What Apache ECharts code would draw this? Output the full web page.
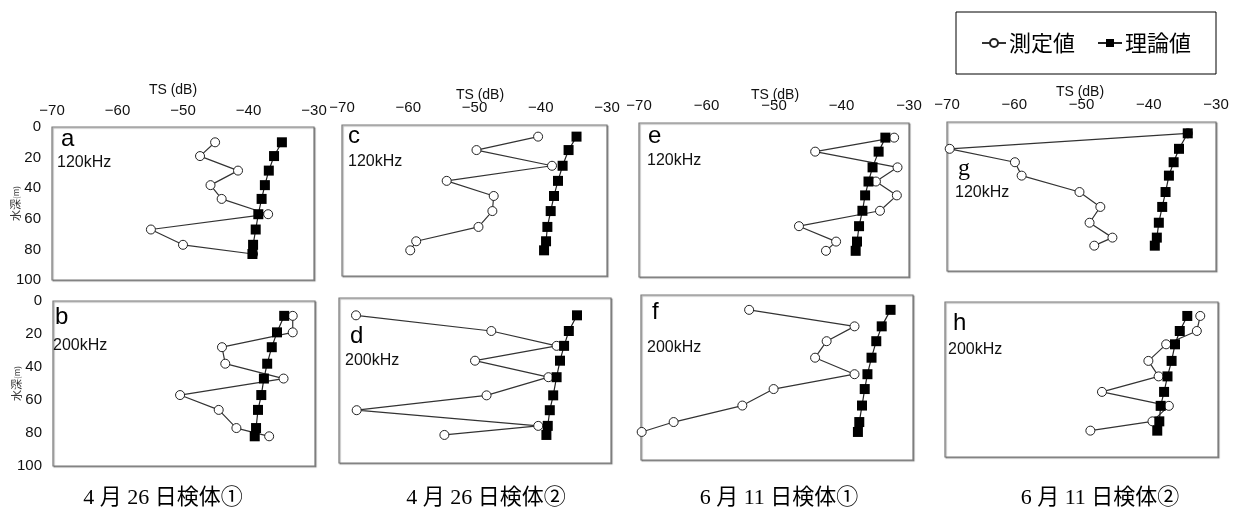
<!DOCTYPE html>
<html><head><meta charset="utf-8">
<script src="https://cdn.jsdelivr.net/npm/echarts@6/dist/echarts.min.js"></script>
<style>html,body{margin:0;padding:0;background:#fff}#c{width:1235px;height:528px}</style>
</head><body><div id="c"></div>
<script>
// ---- data (TS in dB vs depth in m) ----
const xTicks = [-70, -60, -50, -40, -30];
const yTicks = [0, 20, 40, 60, 80, 100];
const seriesNames = ['測定値', '理論値'];
const captions = ['4 月 26 日検体①', '4 月 26 日検体②', '6 月 11 日検体①', '6 月 11 日検体②'];

const depthA = [10, 19, 28.5, 38, 47, 57, 67, 77, 83];
const measA  = [-45.1, -47.4, -41.6, -45.8, -44.1, -37.0, -54.9, -50.0, -39.3];
const theoA  = [-34.9, -36.1, -36.9, -37.5, -38.0, -38.5, -38.9, -39.3, -39.4];

const depthB = [9, 19, 28, 38, 47, 57, 66, 77, 82];
const measB  = [-33.4, -33.4, -44.2, -43.7, -34.8, -50.6, -44.7, -42.0, -37.0];
const theoB  = [-34.7, -35.8, -36.6, -37.3, -37.8, -38.2, -38.7, -39.0, -39.2];

const depthC = [7.7, 16.6, 27, 37, 47, 57, 67.5, 77, 83];
const measC  = [-40.4, -49.7, -38.3, -54.2, -47.1, -47.3, -49.4, -58.8, -59.7];
const theoC  = [-34.6, -35.8, -36.7, -37.4, -38.0, -38.5, -39.0, -39.2, -39.5];

const depthD = [10.5, 20, 29, 38, 48, 59, 68, 77.5, 83];
const measD  = [-67.5, -47.6, -38.0, -50.0, -39.2, -48.3, -67.4, -40.7, -54.5];
const theoD  = [-35.0, -36.2, -36.9, -37.5, -38.0, -38.5, -39.0, -39.3, -39.5];

const depthE = [9.5, 18.6, 28.8, 38, 47, 57, 67, 77, 83];
const measE  = [-32.2, -43.9, -31.7, -34.9, -31.8, -34.3, -46.3, -40.8, -42.3];
const theoE  = [-33.5, -34.5, -35.4, -36.0, -36.5, -36.9, -37.4, -37.7, -37.9];

const depthF = [9, 19, 28, 38, 48, 57, 67, 77, 83];
const measF  = [-54.1, -38.6, -42.7, -44.4, -38.6, -50.5, -55.1, -65.2, -69.9];
const theoF  = [-33.3, -34.6, -35.4, -36.1, -36.7, -37.1, -37.5, -37.9, -38.1];

const depthG = [7.6, 18, 27, 36, 47, 57, 67.6, 77.6, 83];
const measG  = [-34.2, -69.6, -59.9, -58.9, -50.3, -47.2, -48.8, -45.4, -48.1];
const theoG  = [-34.2, -35.5, -36.3, -37.0, -37.5, -38.0, -38.5, -38.8, -39.1];

const depthH = [9, 18.7, 27.3, 38, 48, 58, 67, 77, 83];
const measH  = [-32.6, -33.1, -37.6, -40.2, -38.7, -47.0, -37.2, -39.6, -48.7];
const theoH  = [-34.5, -35.6, -36.3, -36.8, -37.4, -37.9, -38.4, -38.6, -38.9];

const panelLetters = ['a', 'b', 'c', 'd', 'e', 'f', 'g', 'h'];
const panelFreqs = ['120kHz', '200kHz', '120kHz', '200kHz', '120kHz', '200kHz', '120kHz', '200kHz'];
const panelDepths = [depthA, depthB, depthC, depthD, depthE, depthF, depthG, depthH];
const panelMeas = [measA, measB, measC, measD, measE, measF, measG, measH];
const panelTheo = [theoA, theoB, theoC, theoD, theoE, theoF, theoG, theoH];

// ---- layout ----
const boxes = [
  {l: 52, t: 127, w: 262, h: 153},
  {l: 53, t: 301, w: 262, h: 165},
  {l: 342, t: 125, w: 265, h: 151},
  {l: 339, t: 298, w: 272, h: 165},
  {l: 639, t: 123, w: 270, h: 154},
  {l: 641, t: 295, w: 272, h: 165},
  {l: 947, t: 122, w: 269, h: 149},
  {l: 945, t: 302, w: 273, h: 155}
];
const letterPos = [[61,140],[55,318],[348,137],[350,337],[648,137],[652,313],[958,170],[953,324]];
const freqPos = [[57,164],[53,347],[348,163],[345,362],[647,162],[647,349],[955,194],[948,351]];
const tsPos = [[173,90],[480,95],[775,95],[1080,92]];
const captionX = [163, 486, 779, 1100];

const SANS = '"Liberation Sans", Arial, sans-serif';
const fmt = v => String(v).replace('-', '\u2212');

const grid = [], xAxis = [], yAxis = [], series = [], graphic = [];
boxes.forEach((b, i) => {
  grid.push({left: b.l, top: b.t, width: b.w, height: b.h, show: true,
    borderColor: '#7a7a7a', borderWidth: 1.2, backgroundColor: '#fff',
    shadowColor: 'rgba(0,0,0,0.35)', shadowBlur: 1, shadowOffsetX: 1, shadowOffsetY: 1});
  const topLabels = (i % 2 === 0);
  const leftLabels = (i < 2);
  xAxis.push({type: 'value', gridIndex: i, position: 'top', min: xTicks[0], max: xTicks[xTicks.length-1],
    interval: xTicks[1] - xTicks[0],
    axisLine: {show: false}, axisTick: {show: false}, splitLine: {show: false},
    axisLabel: {show: topLabels, formatter: fmt, margin: i === 0 ? 9 : 10, color: '#111', fontSize: 15, fontFamily: SANS}});
  yAxis.push({type: 'value', gridIndex: i, inverse: true, min: yTicks[0], max: yTicks[yTicks.length-1],
    interval: yTicks[1] - yTicks[0],
    axisLine: {show: false}, axisTick: {show: false}, splitLine: {show: false},
    axisLabel: {show: leftLabels, margin: 11, color: '#111', fontSize: 15, fontFamily: SANS},
    name: leftLabels ? '{a|水深}{b|(m)}' : '', nameLocation: 'middle', nameRotate: 90, nameGap: 31,
    nameMoveOverlap: false,
    nameTextStyle: {rich: {a: {fontSize: 11, fontFamily: '"Noto Sans CJK JP"', color: '#333'},
                           b: {fontSize: 8, fontFamily: '"Noto Sans CJK JP"', color: '#333'}}}});
  const d = panelDepths[i];
  series.push({name: seriesNames[0], type: 'line', xAxisIndex: i, yAxisIndex: i,
    data: d.map((y, k) => [panelMeas[i][k], y]),
    symbol: 'circle', symbolSize: 9, showAllSymbol: true, z: 2,
    lineStyle: {color: '#333', width: 1.2},
    itemStyle: {color: '#fff', borderColor: '#222', borderWidth: 1}});
  series.push({name: seriesNames[1], type: 'line', xAxisIndex: i, yAxisIndex: i,
    data: d.map((y, k) => [panelTheo[i][k], y]),
    symbol: 'rect', symbolSize: 10, showAllSymbol: true, z: 3,
    lineStyle: {color: '#222', width: 1.2},
    itemStyle: {color: '#000', borderColor: '#000', borderWidth: 0}});
  graphic.push({type: 'text', left: letterPos[i][0], top: letterPos[i][1] - 13, z: 10,
    style: {text: panelLetters[i], fontSize: 24,
      fontFamily: panelLetters[i] === 'g' ? '"Liberation Serif", serif' : SANS, fill: '#000'}});
  graphic.push({type: 'text', left: freqPos[i][0], top: freqPos[i][1] - 9, z: 10,
    style: {text: panelFreqs[i], fontSize: 16, fontFamily: SANS, fill: '#111'}});
});
tsPos.forEach(p => {
  graphic.push({type: 'text', x: p[0], y: p[1], z: 10,
    style: {text: 'TS (dB)', fontSize: 14, fontFamily: SANS, fill: '#111', align: 'center', verticalAlign: 'middle'}});
});
captions.forEach((c, i) => {
  graphic.push({type: 'text', x: captionX[i], y: 498, z: 10,
    style: {text: c, fontSize: 22, fontFamily: '"Liberation Serif", "Noto Sans CJK JP", serif', fill: '#000', align: 'center', verticalAlign: 'middle'}});
});

const chart = echarts.init(document.getElementById('c'), null, {renderer: 'canvas'});
chart.setOption({
  animation: false,
  backgroundColor: '#fff',
  grid, xAxis, yAxis, series, graphic,
  legend: {data: seriesNames, left: 956, top: 12, orient: 'horizontal',
    padding: [20, 25], itemGap: 22, itemWidth: 24, itemHeight: 10,
    borderColor: '#000', borderWidth: 1, selectedMode: false,
    textStyle: {fontSize: 22, fontFamily: '"Noto Sans CJK JP"', color: '#000', padding: [0, 0, 0, -2]}}
});
</script></body></html>
